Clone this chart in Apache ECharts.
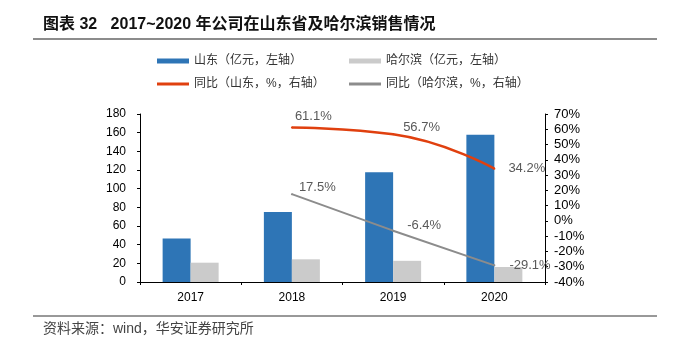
<!DOCTYPE html>
<html>
<head>
<meta charset="utf-8">
<script src="https://cdn.jsdelivr.net/npm/echarts@6/dist/echarts.min.js"></script>
<style>html,body{margin:0;padding:0;background:#fff}#c{width:677px;height:340px}</style>
</head>
<body>
<div id="c"></div>
<script>
const categories = ['2017', '2018', '2019', '2020'];
const shandongSales = [46.5, 75, 117.5, 157.7];
const harbinSales = [20.7, 24.3, 22.7, 16.1];
const shandongYoY = ['-', 61.1, 56.7, 34.2];
const harbinYoY = ['-', 17.5, -6.4, -29.1];
const leftTicks = {min: 0, max: 180, interval: 20};
const rightTicks = {min: -40, max: 70, interval: 10};
const names = ['山东（亿元，左轴）', '哈尔滨（亿元，左轴）', '同比（山东，%，右轴）', '同比（哈尔滨，%，右轴）'];
const titleText = '图表 32   2017~2020 年公司在山东省及哈尔滨销售情况';
const sourceText = '资料来源：wind，华安证券研究所';

// label placement (style only)
const shandongLabelOffsets = [null, [2, -11], [9, -7], [13, 0]];
const harbinLabelOffsets = [null, [6, -7], [13, -5], [14, 0]];

const latin = 'Liberation Sans, Arial, Noto Sans CJK SC, sans-serif';
const cjk = 'Liberation Sans, Noto Sans CJK SC, sans-serif';

const chart = echarts.init(document.getElementById('c'), null, {renderer: 'canvas'});

function legend(name, left, top, h) {
  return {
    data: [{name: name, icon: 'rect'}],
    left: left, top: top, padding: 0,
    itemWidth: 32, itemHeight: h, itemGap: 0,
    textStyle: {fontSize: 12, color: '#333', fontFamily: cjk},
    selectedMode: false
  };
}

const labelStyle = {show: true, fontSize: 13, color: '#595959', fontFamily: latin, position: 'right', distance: 0};

function lineData(values, offsets) {
  return values.map((v, i) => {
    if (v === '-') return '-';
    return {value: v, label: {offset: offsets[i]}};
  });
}

chart.setOption({
  animation: false,
  backgroundColor: '#fff',
  title: {
    text: titleText,
    left: 43, top: 17,
    padding: 0,
    textStyle: {fontSize: 16, fontWeight: 'bold', color: '#111', fontFamily: cjk}
  },
  graphic: [
    {type: 'line', shape: {x1: 33, y1: 39, x2: 657, y2: 39}, style: {stroke: '#666', lineWidth: 1.5}},
    {type: 'line', shape: {x1: 33, y1: 316, x2: 657, y2: 316}, style: {stroke: '#333', lineWidth: 1}},
    {type: 'text', left: 43, top: 322, style: {text: sourceText, fill: '#444', font: '14px ' + cjk}}
  ],
  legend: [
    legend(names[0], 157, 55, 5),
    legend(names[1], 349, 55, 5),
    legend(names[2], 157, 78, 3),
    legend(names[3], 349, 78, 3)
  ],
  grid: {left: 140, right: 132, top: 114, bottom: 58, containLabel: false},
  xAxis: {
    type: 'category',
    data: categories,
    axisLine: {lineStyle: {color: '#000', width: 1}},
    axisTick: {show: true, length: 3, lineStyle: {color: '#000'}},
    axisLabel: {fontSize: 12, color: '#000', fontFamily: latin, margin: 10}
  },
  yAxis: [
    {
      type: 'value', min: leftTicks.min, max: leftTicks.max, interval: leftTicks.interval,
      position: 'left',
      axisLine: {show: true, lineStyle: {color: '#000'}},
      axisTick: {show: true, length: 3, lineStyle: {color: '#000'}},
      splitLine: {show: false},
      axisLabel: {fontSize: 12, color: '#000', fontFamily: latin, margin: 14}
    },
    {
      type: 'value', min: rightTicks.min, max: rightTicks.max, interval: rightTicks.interval,
      position: 'right',
      axisLine: {show: true, lineStyle: {color: '#000'}},
      axisTick: {show: true, length: 3, lineStyle: {color: '#000'}},
      splitLine: {show: false},
      axisLabel: {fontSize: 13, color: '#000', fontFamily: latin, margin: 9, formatter: '{value}%'}
    }
  ],
  series: [
    {
      name: names[0], type: 'bar', data: shandongSales, barWidth: 28, barGap: '0%',
      itemStyle: {color: '#2E75B6'}
    },
    {
      name: names[1], type: 'bar', data: harbinSales, barWidth: 28, barGap: '0%',
      itemStyle: {color: '#CBCBCB'}
    },
    {
      name: names[2], type: 'line', yAxisIndex: 1, data: lineData(shandongYoY, shandongLabelOffsets), smooth: 0.5,
      symbol: 'circle', symbolSize: 2, showSymbol: true, color: '#E0400F',
      lineStyle: {color: '#E0400F', width: 2.5},
      itemStyle: {color: '#E0400F'},
      label: {...labelStyle, formatter: p => p.value + '%'},
      z: 3
    },
    {
      name: names[3], type: 'line', yAxisIndex: 1, data: lineData(harbinYoY, harbinLabelOffsets),
      symbol: 'circle', symbolSize: 2, showSymbol: true, color: '#8C8C8C',
      lineStyle: {color: '#8C8C8C', width: 2},
      itemStyle: {color: '#8C8C8C'},
      label: {...labelStyle, formatter: p => p.value + '%'},
      z: 3
    }
  ]
});
</script>
</body>
</html>
